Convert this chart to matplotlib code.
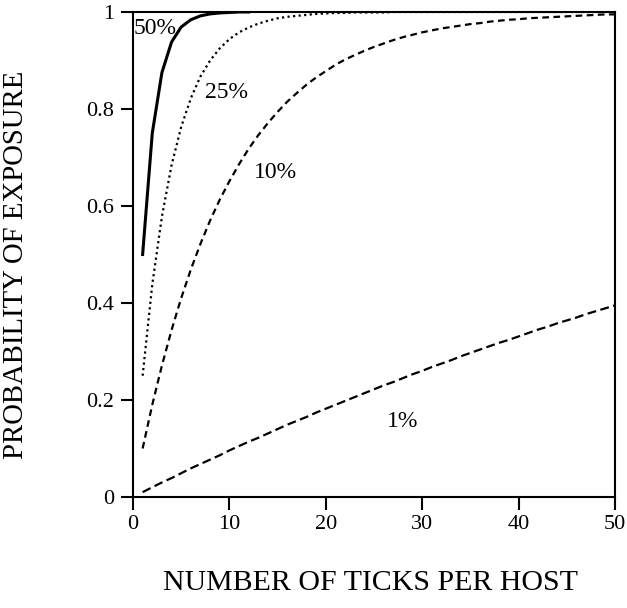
import numpy as np
import matplotlib.pyplot as plt

plt.rcParams['font.family'] = ['Liberation Serif', 'DejaVu Serif']

# ticks per host
n_50 = list(range(1, 13))
p_50 = [0.5, 0.75, 0.875, 0.938, 0.969, 0.984, 0.992, 0.996, 0.998, 0.999, 1.0, 1.0]

n_all = list(range(1, 51))
p_25 = [0.25, 0.438, 0.578, 0.684, 0.763, 0.822, 0.867, 0.900, 0.925, 0.944,
        0.958, 0.968, 0.976, 0.982, 0.987, 0.990, 0.992, 0.994, 0.996, 0.997,
        0.998, 0.998, 0.999, 0.999, 0.999, 0.999, 1.0, 1.0, 1.0, 1.0,
        1.0, 1.0, 1.0, 1.0, 1.0, 1.0, 1.0, 1.0, 1.0, 1.0,
        1.0, 1.0, 1.0, 1.0, 1.0, 1.0, 1.0, 1.0, 1.0, 1.0]
p_10 = [0.1, 0.19, 0.271, 0.344, 0.410, 0.469, 0.522, 0.570, 0.613, 0.651,
        0.686, 0.718, 0.746, 0.771, 0.794, 0.815, 0.833, 0.850, 0.865, 0.878,
        0.891, 0.902, 0.911, 0.920, 0.928, 0.935, 0.942, 0.948, 0.953, 0.958,
        0.962, 0.966, 0.969, 0.972, 0.975, 0.977, 0.980, 0.982, 0.984, 0.985,
        0.987, 0.988, 0.989, 0.990, 0.991, 0.992, 0.993, 0.994, 0.995, 0.995]
p_1 = [0.010, 0.020, 0.030, 0.039, 0.049, 0.059, 0.068, 0.077, 0.086, 0.096,
       0.105, 0.114, 0.122, 0.131, 0.140, 0.149, 0.157, 0.165, 0.174, 0.182,
       0.190, 0.198, 0.206, 0.214, 0.222, 0.230, 0.237, 0.245, 0.253, 0.260,
       0.268, 0.275, 0.282, 0.290, 0.297, 0.304, 0.311, 0.318, 0.324, 0.331,
       0.338, 0.345, 0.351, 0.358, 0.364, 0.370, 0.377, 0.383, 0.389, 0.395]

labels = ['50%', '25%', '10%', '1%']
label_pos = [(2.3, 0.965), (9.7, 0.835), (14.8, 0.67), (28.0, 0.155)]

fig = plt.figure(figsize=(6.27, 6.08), dpi=100)
ax = fig.add_axes([0.2121, 0.1826, 0.7687, 0.7977])

ax.plot(n_50, p_50, color='black', lw=2.2, ls='-')
ax.plot(n_all, p_25, color='black', lw=1.6, ls=(0, (1, 1.5)))
ax.plot(n_all, p_10, color='black', lw=1.6, ls=(0, (3, 2)))
ax.plot(n_all, p_1, color='black', lw=1.6, ls=(0, (4, 2)))

for txt, (x, y) in zip(labels, label_pos):
    ax.text(x, y, txt, fontsize=17, ha='center', va='center')

ax.set_xlim(0, 50)
ax.set_ylim(0, 1)
ax.set_xticks([0, 10, 20, 30, 40, 50])
ax.set_yticks([0, 0.2, 0.4, 0.6, 0.8, 1])
ax.set_yticklabels(['0', '0.2', '0.4', '0.6', '0.8', '1'])
ax.tick_params(axis='x', direction='out', length=9, width=1.5, labelsize=16, pad=4)
ax.tick_params(axis='y', direction='out', length=8.5, width=1.5, labelsize=16, pad=5)
for s in ax.spines.values():
    s.set_linewidth(1.5)

ax.set_xlabel('NUMBER OF TICKS PER HOST', fontsize=21.5, va='center')
ax.set_ylabel('PROBABILITY OF EXPOSURE', fontsize=20.7, va='center')
ax.xaxis.set_label_coords(0.492, -0.177)
ax.yaxis.set_label_coords(-0.243, 0.478)

fig.savefig('out.png', dpi=100)
